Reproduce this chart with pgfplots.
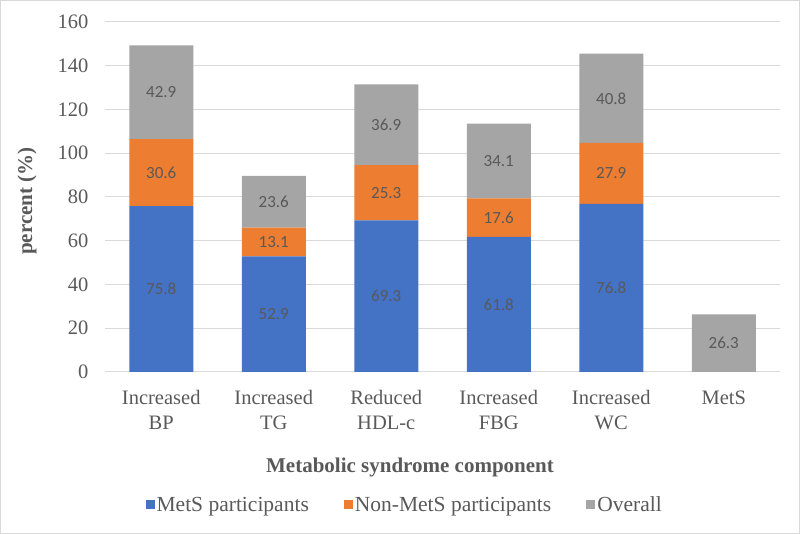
\documentclass[border=0pt]{standalone}
\usepackage{pgfplots}
\pgfplotsset{compat=1.18}
\usepackage{pgfplotstable}
\usepackage{fontspec}
\setmainfont{Liberation Serif}
\newfontfamily\libserif{Liberation Serif}
\newfontfamily\carlito{Carlito}
\definecolor{cblue}{HTML}{4472C4}
\definecolor{corange}{HTML}{ED7D31}
\definecolor{cgray}{HTML}{A5A5A5}
\definecolor{ctext}{HTML}{595959}
\definecolor{cgrid}{HTML}{D9D9D9}
\pgfplotstableread{
x mets non overall
0 75.8 30.6 42.9
1 52.9 13.1 23.6
2 69.3 25.3 36.9
3 61.8 17.6 34.1
4 76.8 27.9 40.8
5 0 0 26.3
}\datatable
\begin{document}
\begin{tikzpicture}[x=1pt,y=1pt]
\draw[cgrid, line width=1pt] (0.5,0.5) rectangle (799.5,533.5);
\begin{axis}[
  at={(105pt,162pt)}, anchor=south west,
  scale only axis, width=675pt, height=350pt,
  ybar stacked, bar width=64pt,
  xmin=-0.5, xmax=5.5, ymin=0, ymax=160,
  enlargelimits=false,
  xtick={0,...,5},
  xticklabels={Increased\\BP, Increased\\TG, Reduced\\HDL-c, Increased\\FBG, Increased\\WC, MetS},
  ytick={0,20,...,160},
  ymajorgrids, grid style={cgrid, line width=1pt},
  axis line style={draw=none},
  major tick length=0pt,
  tick label style={font=\libserif\fontsize{20.5}{25}\selectfont, text=ctext},
  xticklabel style={align=center, yshift=-15pt},
  yticklabel style={xshift=-13pt},
  /pgf/number format/assume math mode=true,
  nodes near coords={{\carlito\fontsize{17}{20}\selectfont\pgfmathparse{\val>0.05}\ifnum\pgfmathresult>0 \pgfmathprintnumber[fixed,fixed zerofill,precision=1]{\val}\fi}},
  every node near coord/.append style={anchor=center, text=ctext},
  legend style={at={(0.444,-0.38)}, anchor=center, draw=none, fill=none,
    legend columns=3, font=\libserif\fontsize{21.5}{25}\selectfont, text=ctext,
    /tikz/every even column/.append style={column sep=33pt},
    legend cell align=left},
  legend image code/.code={\fill[#1] (0pt,-4pt) rectangle (9pt,5pt);},
]
\addplot[fill=cblue, draw=none, visualization depends on={\thisrow{mets} \as \val}] table[x=x, y=mets] {\datatable};
\addplot[fill=corange, draw=none, visualization depends on={\thisrow{non} \as \val}] table[x=x, y=non] {\datatable};
\addplot[fill=cgray, draw=none, visualization depends on={\thisrow{overall} \as \val}] table[x=x, y=overall] {\datatable};
\legend{MetS participants, Non-MetS participants, Overall}
\end{axis}
\node[rotate=90, font=\libserif\bfseries\fontsize{21}{25}\selectfont, text=ctext] at (27,333) {percent (\%)};
\node[font=\libserif\bfseries\fontsize{21}{25}\selectfont, text=ctext] at (410,67) {Metabolic syndrome component};
\end{tikzpicture}
\end{document}
